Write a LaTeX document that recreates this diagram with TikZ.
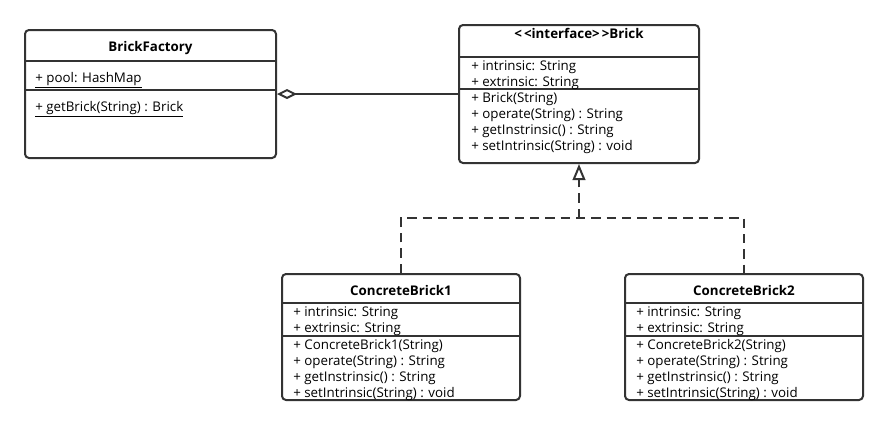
\documentclass[tikz,border=0pt]{standalone}
\usepackage{fontspec}
\setmainfont{Open Sans}
\usetikzlibrary{arrows.meta,fit}
\definecolor{umlgray}{HTML}{333333}

\begin{document}
\begin{tikzpicture}[x=0.75pt,y=-0.75pt,
  font=\fontsize{10}{11.8}\selectfont,
  classbox/.style={draw=umlgray,line width=1.5pt,rounded corners=3pt,fill=white,inner sep=0pt},
  sepline/.style={draw=umlgray,line width=1.5pt},
  title/.style={font=\fontsize{10}{11.8}\selectfont\bfseries,anchor=base,inner sep=0pt},
  members/.style={align=left,anchor=base west,inner sep=0pt},
  aggr/.style={draw=umlgray,line width=1.5pt,{Diamond[open,length=15pt,width=7.5pt,fill=white]}-},
  realize/.style={draw=umlgray,line width=1.5pt,dash pattern=on 7pt off 4.5pt,-{Triangle[open,length=12pt,width=9.5pt,fill=white]}},
  implline/.style={draw=umlgray,line width=1.5pt,dash pattern=on 7pt off 4.5pt}]
  \useasboundingbox (0,0) rectangle (889,425);

  % classes
  \node[classbox,fit={(25,30) (276,158)}] (factory) {};
  \node[classbox,fit={(459,25) (699,163)}] (brick) {};
  \node[classbox,fit={(282,274) (520,400)}] (cb1) {};
  \node[classbox,fit={(625,274) (863,400)}] (cb2) {};

  \draw[sepline] (25,61) -- (276,61);
  \draw[sepline] (25,90) -- (276,90);
  \draw[sepline] (459,57) -- (699,57);
  \draw[sepline] (459,89) -- (699,89);
  \draw[sepline] (282,303) -- (520,303);
  \draw[sepline] (282,336) -- (520,336);
  \draw[sepline] (625,303) -- (863,303);
  \draw[sepline] (625,336) -- (863,336);

  % BrickFactory
  \node[title] (factory-name) at (150.5,51) {BrickFactory};
  \node[members] (factory-attr) at (35,82) {\underline{+ pool: HashMap}};
  \node[members] (factory-ops) at (35,111) {\underline{+ getBrick(String) : Brick}};

  % Brick (base = last line)
  \node[title] (brick-name) at (579,38) {<\kern1.5pt<interface>\kern1.5pt>Brick};
  \node[members] (brick-attr) at (471,86.7) {+ intrinsic: String\\+ extrinsic: String};
  \node[members] (brick-ops) at (471,150) {+ Brick(String)\\+ operate(String) : String\\+ getInstrinsic() : String\\+ setIntrinsic(String) : void};

  % ConcreteBrick1
  \node[title] (cb1-name) at (401,295) {ConcreteBrick1};
  \node[members] (cb1-attr) at (293,332.7) {+ intrinsic: String\\+ extrinsic: String};
  \node[members] (cb1-ops) at (293,397) {+ ConcreteBrick1(String)\\+ operate(String) : String\\+ getInstrinsic() : String\\+ setIntrinsic(String) : void};

  % ConcreteBrick2
  \node[title] (cb2-name) at (744,295) {ConcreteBrick2};
  \node[members] (cb2-attr) at (636,332.7) {+ intrinsic: String\\+ extrinsic: String};
  \node[members] (cb2-ops) at (636,397) {+ ConcreteBrick2(String)\\+ operate(String) : String\\+ getInstrinsic() : String\\+ setIntrinsic(String) : void};

  % relations
  \draw[aggr] (factory.east) -- (factory.east -| brick.west);
  \coordinate (bus) at (579,218);
  \draw[implline] (cb1.north) |- (bus) -| (cb2.north);
  \draw[realize] (bus) -- (brick.south);
\end{tikzpicture}
\end{document}
